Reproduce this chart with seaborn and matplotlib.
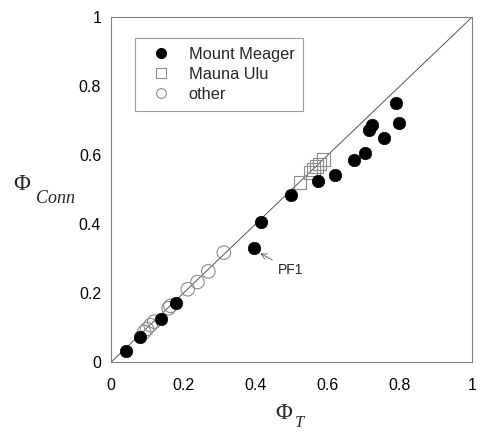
import numpy as np
import pandas as pd
import matplotlib
matplotlib.use("Agg")
import matplotlib.pyplot as plt
import seaborn as sns
from matplotlib.lines import Line2D
from matplotlib.ticker import MultipleLocator

# ===============================
# Data
# ===============================
meager_t = [0.042, 0.081, 0.138, 0.180, 0.397, 0.416, 0.500, 0.574, 0.622,
            0.674, 0.705, 0.714, 0.724, 0.757, 0.789, 0.798]
meager_conn = [0.034, 0.074, 0.127, 0.172, 0.331, 0.406, 0.486, 0.527, 0.543,
               0.588, 0.608, 0.673, 0.688, 0.650, 0.751, 0.695]

ulu_t = [0.524, 0.552, 0.562, 0.570, 0.578, 0.588]
ulu_conn = [0.521, 0.550, 0.560, 0.568, 0.575, 0.587]

other_t = [0.092, 0.100, 0.110, 0.120, 0.160, 0.165, 0.213, 0.240, 0.270, 0.313]
other_conn = [0.088, 0.097, 0.108, 0.118, 0.157, 0.164, 0.212, 0.233, 0.264, 0.318]

labels = ["Mount Meager", "Mauna Ulu", "other"]

df_meager = pd.DataFrame({"phi_t": meager_t, "phi_conn": meager_conn})
df_ulu = pd.DataFrame({"phi_t": ulu_t, "phi_conn": ulu_conn})
df_other = pd.DataFrame({"phi_t": other_t, "phi_conn": other_conn})

# ===============================
# Plot
# ===============================
sns.set_style("white")
plt.rcParams["font.family"] = ["Liberation Sans", "DejaVu Sans"]

W, H = 480, 433
fig = plt.figure(figsize=(W / 100, H / 100), dpi=100)
ax = fig.add_axes([0.231, 0.163, 0.752, 0.797])

# 1:1 line
ax.plot([0, 1], [0, 1], color="#555555", lw=0.7, zorder=1)

sns.scatterplot(data=df_other, x="phi_t", y="phi_conn", ax=ax, marker="o",
                s=95, facecolor="none", edgecolor="#8c8c8c", linewidth=0.8, zorder=2)
sns.scatterplot(data=df_ulu, x="phi_t", y="phi_conn", ax=ax, marker="s",
                s=85, facecolor="none", edgecolor="#8c8c8c", linewidth=0.8, zorder=2)
sns.scatterplot(data=df_meager, x="phi_t", y="phi_conn", ax=ax, marker="o",
                s=80, color="black", edgecolor="black", linewidth=0.5, zorder=3)

ax.annotate("PF1", xy=(0.414, 0.316), xytext=(0.463, 0.268),
            fontsize=10, va="center", ha="left",
            arrowprops=dict(arrowstyle="->", color="#555555", lw=0.6,
                            shrinkA=2, shrinkB=0))

# ===============================
# Axes and ticks
# ===============================
ax.set_xlim(0, 1)
ax.set_ylim(0, 1)
ax.xaxis.set_major_locator(MultipleLocator(0.2))
ax.yaxis.set_major_locator(MultipleLocator(0.2))
ax.xaxis.set_minor_locator(MultipleLocator(0.05))
ax.yaxis.set_minor_locator(MultipleLocator(0.05))
ax.xaxis.set_major_formatter(plt.FuncFormatter(lambda v, p: f"{v:g}"))
ax.yaxis.set_major_formatter(plt.FuncFormatter(lambda v, p: f"{v:g}"))
ax.tick_params(which="both", direction="in", color="#808080", top=False, right=False,
               labelsize=11.5, labelcolor="black")
ax.tick_params(which="major", length=5, width=0.7)
ax.tick_params(which="minor", length=3, width=0.6)
ax.tick_params(axis="x", which="major", pad=11)
ax.tick_params(axis="y", which="major", pad=7)
for sp in ax.spines.values():
    sp.set_color("#808080")
    sp.set_linewidth(0.8)
ax.set_xlabel("")
ax.set_ylabel("")

# axis labels: Phi with a dropped italic subscript
serif = ["Liberation Serif", "DejaVu Serif"]
fig.text(13 / W, 1 - 190 / H, "\u03a6", fontsize=16.5, family=serif,
         ha="left", va="baseline")
fig.text(36 / W, 1 - 203 / H, "Conn", fontsize=13, family=serif, style="italic",
         ha="left", va="baseline")
fig.text(275 / W, 1 - 419 / H, "\u03a6", fontsize=16.5, family=serif,
         ha="left", va="baseline")
fig.text(295 / W, 1 - 427 / H, "T", fontsize=12, family=serif, style="italic",
         ha="left", va="baseline")

# ===============================
# Legend
# ===============================
handles = [
    Line2D([], [], marker="o", ls="none", color="black", markersize=7),
    Line2D([], [], marker="s", ls="none", markerfacecolor="none",
           markeredgecolor="#8c8c8c", markersize=7, markeredgewidth=0.8),
    Line2D([], [], marker="o", ls="none", markerfacecolor="none",
           markeredgecolor="#8c8c8c", markersize=7, markeredgewidth=0.8),
]
leg = ax.legend(handles, labels, loc="upper left", bbox_to_anchor=(0.068, 0.94),
                fontsize=11.8, frameon=True, fancybox=False, borderpad=0.55,
                handletextpad=0.7, labelspacing=0.3, borderaxespad=0)
leg.get_frame().set_edgecolor("#808080")
leg.get_frame().set_linewidth(0.8)

fig.savefig("out.png", dpi=100)
